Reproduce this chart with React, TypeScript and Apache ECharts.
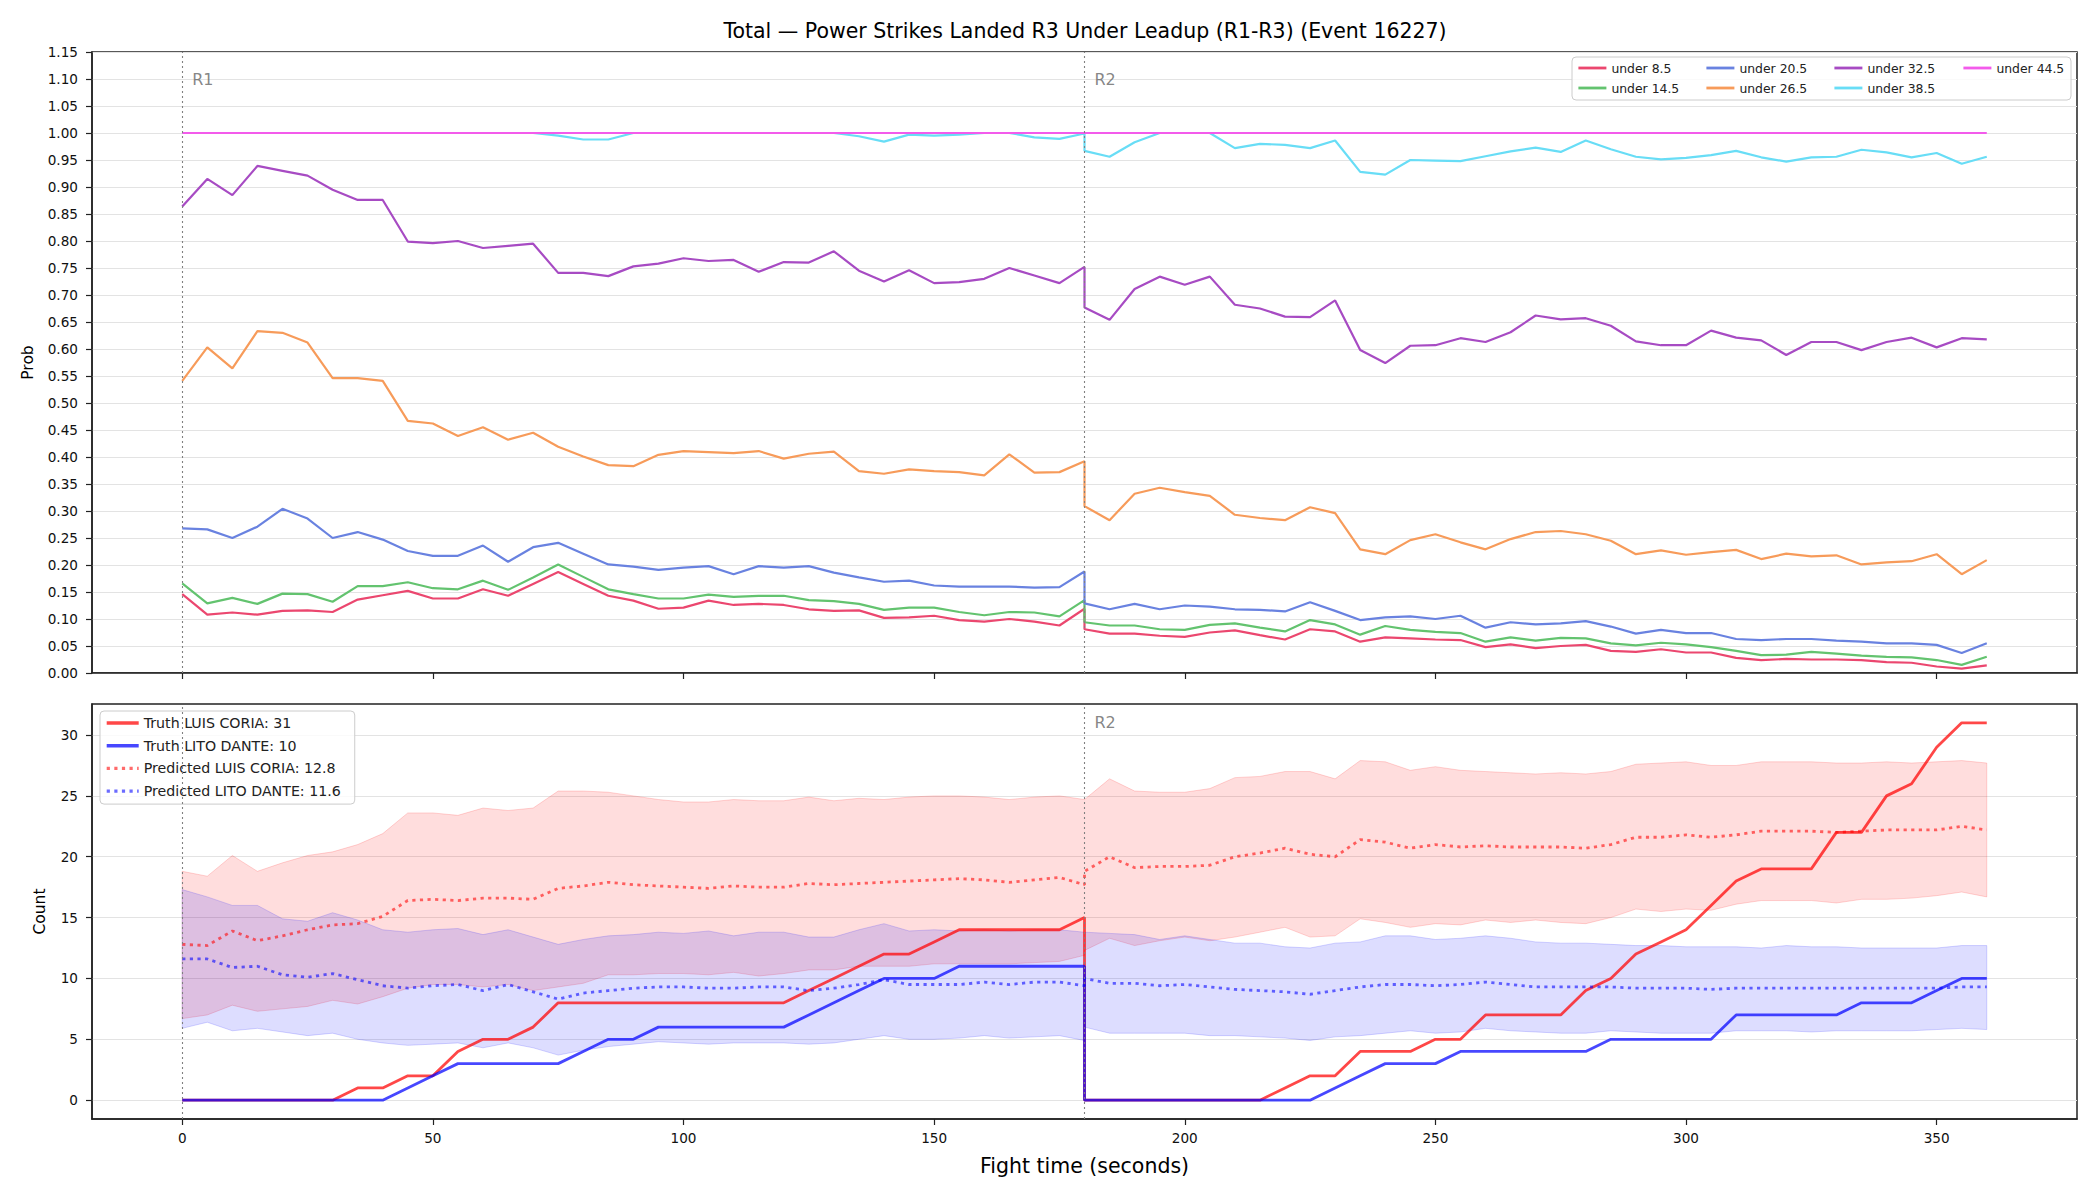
import React, { useEffect, useRef } from "react";
import * as echarts from "echarts";

const TITLE = "Total — Power Strikes Landed R3 Under Leadup (R1-R3) (Event 16227)";
const X_TICKS = [0, 50, 100, 150, 200, 250, 300, 350];
const COUNT_TICKS = [0, 5, 10, 15, 20, 25, 30];
const ROUND_STARTS = [0, 180];
const ROUND_LABELS = ["R1", "R2"];

const TIME_R1 = [0, 5, 10, 15, 20, 25, 30, 35, 40, 45, 50, 55, 60, 65, 70, 75, 80, 85, 90, 95, 100, 105, 110, 115, 120, 125, 130, 135, 140, 145, 150, 155, 160, 165, 170, 175, 180];
const TIME_R2 = [180, 185, 190, 195, 200, 205, 210, 215, 220, 225, 230, 235, 240, 245, 250, 255, 260, 265, 270, 275, 280, 285, 290, 295, 300, 305, 310, 315, 320, 325, 330, 335, 340, 345, 350, 355, 360];

// ---- Top panel: probabilities ----
const U85_R1 = [0.146, 0.108, 0.112, 0.108, 0.115, 0.116, 0.113, 0.136, 0.144, 0.152, 0.138, 0.138, 0.155, 0.143, 0.165, 0.187, 0.165, 0.143, 0.134, 0.119, 0.121, 0.134, 0.126, 0.128, 0.126, 0.118, 0.115, 0.116, 0.102, 0.103, 0.106, 0.098, 0.095, 0.100, 0.095, 0.088, 0.119];
const U85_R2 = [0.081, 0.073, 0.073, 0.069, 0.067, 0.075, 0.079, 0.070, 0.062, 0.081, 0.077, 0.058, 0.066, 0.064, 0.062, 0.061, 0.048, 0.053, 0.046, 0.050, 0.052, 0.041, 0.039, 0.044, 0.038, 0.038, 0.028, 0.024, 0.026, 0.025, 0.025, 0.024, 0.020, 0.019, 0.012, 0.008, 0.014];
const U145_R1 = [0.166, 0.129, 0.139, 0.128, 0.147, 0.146, 0.132, 0.161, 0.161, 0.168, 0.157, 0.155, 0.171, 0.154, 0.177, 0.201, 0.178, 0.155, 0.146, 0.138, 0.138, 0.145, 0.141, 0.143, 0.143, 0.135, 0.133, 0.128, 0.117, 0.121, 0.121, 0.113, 0.107, 0.113, 0.112, 0.105, 0.135];
const U145_R2 = [0.094, 0.088, 0.088, 0.081, 0.080, 0.089, 0.092, 0.084, 0.077, 0.098, 0.090, 0.071, 0.087, 0.080, 0.076, 0.074, 0.058, 0.066, 0.060, 0.065, 0.064, 0.055, 0.051, 0.056, 0.053, 0.048, 0.041, 0.033, 0.034, 0.039, 0.036, 0.032, 0.030, 0.029, 0.024, 0.015, 0.030];
const U205_R1 = [0.268, 0.266, 0.250, 0.271, 0.304, 0.286, 0.250, 0.261, 0.247, 0.226, 0.217, 0.217, 0.236, 0.206, 0.233, 0.241, 0.221, 0.201, 0.197, 0.191, 0.195, 0.198, 0.183, 0.198, 0.195, 0.198, 0.186, 0.177, 0.169, 0.171, 0.162, 0.160, 0.160, 0.160, 0.158, 0.159, 0.188];
const U205_R2 = [0.129, 0.118, 0.128, 0.118, 0.125, 0.123, 0.118, 0.117, 0.114, 0.131, 0.115, 0.098, 0.103, 0.105, 0.100, 0.106, 0.084, 0.094, 0.090, 0.092, 0.096, 0.086, 0.073, 0.080, 0.074, 0.074, 0.063, 0.061, 0.063, 0.063, 0.060, 0.058, 0.055, 0.055, 0.052, 0.037, 0.055];
const U265_R1 = [0.541, 0.603, 0.564, 0.633, 0.630, 0.612, 0.546, 0.546, 0.541, 0.467, 0.462, 0.439, 0.455, 0.432, 0.445, 0.419, 0.401, 0.385, 0.383, 0.404, 0.411, 0.409, 0.407, 0.411, 0.397, 0.406, 0.410, 0.374, 0.369, 0.377, 0.374, 0.372, 0.366, 0.405, 0.371, 0.372, 0.392];
const U265_R2 = [0.309, 0.283, 0.332, 0.343, 0.335, 0.328, 0.293, 0.287, 0.283, 0.307, 0.296, 0.229, 0.220, 0.246, 0.257, 0.242, 0.229, 0.248, 0.261, 0.263, 0.257, 0.245, 0.220, 0.227, 0.219, 0.224, 0.228, 0.211, 0.221, 0.216, 0.218, 0.201, 0.205, 0.207, 0.220, 0.183, 0.209];
const U325_R1 = [0.864, 0.915, 0.885, 0.939, 0.930, 0.921, 0.895, 0.876, 0.876, 0.799, 0.796, 0.800, 0.787, 0.791, 0.795, 0.741, 0.741, 0.735, 0.753, 0.758, 0.768, 0.763, 0.765, 0.743, 0.761, 0.760, 0.781, 0.745, 0.725, 0.746, 0.722, 0.724, 0.730, 0.750, 0.736, 0.722, 0.752];
const U325_R2 = [0.677, 0.654, 0.711, 0.734, 0.719, 0.734, 0.682, 0.675, 0.660, 0.659, 0.690, 0.598, 0.574, 0.606, 0.607, 0.620, 0.613, 0.631, 0.662, 0.655, 0.657, 0.643, 0.614, 0.607, 0.607, 0.634, 0.621, 0.616, 0.589, 0.613, 0.613, 0.598, 0.613, 0.621, 0.603, 0.620, 0.618];
const U385_R1 = [1, 1, 1, 1, 1, 1, 1, 1, 1, 1, 1, 1, 1, 1, 1, 0.995, 0.988, 0.988, 1, 1, 1, 1, 1, 1, 1, 1, 1, 0.994, 0.984, 0.997, 0.995, 0.997, 1, 1, 0.992, 0.989, 0.999];
const U385_R2 = [0.967, 0.956, 0.983, 1, 1, 1, 0.972, 0.980, 0.978, 0.972, 0.986, 0.928, 0.923, 0.950, 0.949, 0.948, 0.957, 0.966, 0.973, 0.965, 0.986, 0.970, 0.956, 0.951, 0.954, 0.959, 0.967, 0.955, 0.947, 0.955, 0.956, 0.969, 0.964, 0.955, 0.963, 0.943, 0.956];
const U445_R1 = [1, 1, 1, 1, 1, 1, 1, 1, 1, 1, 1, 1, 1, 1, 1, 1, 1, 1, 1, 1, 1, 1, 1, 1, 1, 1, 1, 1, 1, 1, 1, 1, 1, 1, 1, 1, 1];
const U445_R2 = [1, 1, 1, 1, 1, 1, 1, 1, 1, 1, 1, 1, 1, 1, 1, 1, 1, 1, 1, 1, 1, 1, 1, 1, 1, 1, 1, 1, 1, 1, 1, 1, 1, 1, 1, 1, 1];

// ---- Bottom panel: counts ----
const TRUTH_CORIA_R1 = [0, 0, 0, 0, 0, 0, 0, 1, 1, 2, 2, 4, 5, 5, 6, 8, 8, 8, 8, 8, 8, 8, 8, 8, 8, 9, 10, 11, 12, 12, 13, 14, 14, 14, 14, 14, 15];
const TRUTH_CORIA_R2 = [0, 0, 0, 0, 0, 0, 0, 0, 1, 2, 2, 4, 4, 4, 5, 5, 7, 7, 7, 7, 9, 10, 12, 13, 14, 16, 18, 19, 19, 19, 22, 22, 25, 26, 29, 31, 31];
const TRUTH_DANTE_R1 = [0, 0, 0, 0, 0, 0, 0, 0, 0, 1, 2, 3, 3, 3, 3, 3, 4, 5, 5, 6, 6, 6, 6, 6, 6, 7, 8, 9, 10, 10, 10, 11, 11, 11, 11, 11, 11];
const TRUTH_DANTE_R2 = [0, 0, 0, 0, 0, 0, 0, 0, 0, 0, 1, 2, 3, 3, 3, 4, 4, 4, 4, 4, 4, 5, 5, 5, 5, 5, 7, 7, 7, 7, 7, 8, 8, 8, 9, 10, 10];
const PRED_CORIA_R1 = [12.8, 12.7, 13.9, 13.1, 13.5, 14.0, 14.4, 14.5, 15.1, 16.4, 16.5, 16.4, 16.6, 16.6, 16.5, 17.4, 17.6, 17.9, 17.7, 17.6, 17.5, 17.4, 17.6, 17.5, 17.5, 17.8, 17.7, 17.8, 17.9, 18.0, 18.1, 18.2, 18.1, 17.9, 18.1, 18.3, 17.7];
const PRED_CORIA_R2 = [18.8, 20.0, 19.1, 19.2, 19.2, 19.3, 20.0, 20.3, 20.7, 20.2, 20.0, 21.4, 21.2, 20.7, 21.0, 20.8, 20.9, 20.8, 20.8, 20.8, 20.7, 21.0, 21.6, 21.6, 21.8, 21.6, 21.8, 22.1, 22.1, 22.1, 22.0, 22.1, 22.2, 22.2, 22.2, 22.5, 22.2];
const PRED_DANTE_R1 = [11.6, 11.6, 10.9, 11.0, 10.3, 10.1, 10.4, 9.9, 9.4, 9.2, 9.4, 9.5, 9.0, 9.5, 8.9, 8.3, 8.8, 9.0, 9.2, 9.3, 9.3, 9.2, 9.2, 9.3, 9.3, 9.0, 9.2, 9.5, 9.9, 9.5, 9.5, 9.5, 9.7, 9.5, 9.7, 9.7, 9.4];
const PRED_DANTE_R2 = [10.0, 9.6, 9.6, 9.4, 9.5, 9.3, 9.1, 9.0, 8.9, 8.7, 9.0, 9.3, 9.5, 9.5, 9.4, 9.5, 9.7, 9.5, 9.3, 9.3, 9.3, 9.3, 9.2, 9.2, 9.2, 9.1, 9.2, 9.2, 9.2, 9.2, 9.2, 9.2, 9.2, 9.2, 9.2, 9.3, 9.3];
const HI_CORIA_R1 = [18.8, 18.4, 20.1, 18.8, 19.5, 20.1, 20.4, 21.0, 21.9, 23.6, 23.6, 23.4, 24.0, 23.8, 24.0, 25.4, 25.4, 25.3, 25.0, 24.7, 24.5, 24.5, 24.7, 24.6, 24.6, 24.9, 24.6, 24.8, 24.7, 24.9, 25.0, 25.0, 24.9, 24.7, 24.9, 25.0, 24.7];
const HI_CORIA_R2 = [24.7, 26.4, 25.4, 25.3, 25.3, 25.6, 26.5, 26.6, 27.0, 27.0, 26.4, 27.9, 27.8, 27.1, 27.4, 27.1, 27.0, 26.9, 26.8, 26.9, 26.8, 27.0, 27.6, 27.7, 27.8, 27.5, 27.5, 27.8, 27.8, 27.8, 27.7, 27.7, 27.8, 27.7, 27.8, 27.9, 27.7];
const LO_CORIA_R1 = [6.7, 7.0, 7.8, 7.3, 7.5, 7.7, 8.2, 7.9, 8.5, 9.2, 9.5, 9.5, 9.3, 9.5, 9.0, 9.3, 9.6, 10.3, 10.3, 10.4, 10.4, 10.3, 10.5, 10.2, 10.4, 10.7, 10.7, 11.0, 11.0, 11.0, 11.2, 11.2, 11.2, 11.2, 11.3, 11.4, 11.9];
const LO_CORIA_R2 = [12.3, 13.3, 12.7, 13.1, 13.4, 13.1, 13.4, 13.8, 14.2, 13.4, 13.5, 14.9, 14.6, 14.2, 14.5, 14.4, 14.8, 14.6, 14.8, 14.6, 14.5, 15.0, 15.7, 15.5, 15.7, 15.6, 16.1, 16.4, 16.4, 16.4, 16.2, 16.5, 16.5, 16.6, 16.8, 17.1, 16.7];
const HI_DANTE_R1 = [17.3, 16.7, 16.0, 16.0, 14.9, 14.7, 15.4, 14.8, 14.0, 13.8, 14.0, 14.1, 13.6, 14.0, 13.4, 12.8, 13.2, 13.5, 13.6, 13.8, 13.7, 13.9, 13.5, 13.8, 13.8, 13.4, 13.4, 14.0, 14.5, 13.9, 14.0, 13.9, 14.0, 13.9, 14.0, 14.0, 13.8];
const HI_DANTE_R2 = [13.8, 13.7, 13.6, 13.2, 13.5, 13.2, 12.9, 12.9, 12.6, 12.5, 12.9, 13.0, 13.5, 13.5, 13.2, 13.3, 13.5, 13.3, 13.0, 12.9, 12.9, 12.8, 12.7, 12.7, 12.6, 12.6, 12.6, 12.5, 12.7, 12.6, 12.6, 12.5, 12.5, 12.5, 12.5, 12.7, 12.7];
const LO_DANTE_R1 = [5.9, 6.4, 5.7, 5.9, 5.6, 5.3, 5.5, 5.0, 4.7, 4.5, 4.6, 4.7, 4.3, 4.7, 4.3, 3.7, 4.1, 4.4, 4.6, 4.8, 4.7, 4.6, 4.7, 4.7, 4.7, 4.6, 4.7, 5.0, 5.3, 5.0, 5.0, 5.1, 5.3, 5.1, 5.2, 5.3, 4.9];
const LO_DANTE_R2 = [6.0, 5.5, 5.5, 5.5, 5.5, 5.3, 5.3, 5.2, 5.1, 4.9, 5.2, 5.3, 5.5, 5.7, 5.5, 5.6, 5.9, 5.7, 5.6, 5.5, 5.5, 5.7, 5.6, 5.5, 5.5, 5.5, 5.7, 5.7, 5.7, 5.6, 5.7, 5.7, 5.7, 5.7, 5.8, 5.9, 5.8];

const PROB_SERIES = [
  { name: "under 8.5", r1: U85_R1, r2: U85_R2, color: "#eb476f" },
  { name: "under 14.5", r1: U145_R1, r2: U145_R2, color: "#63c36f" },
  { name: "under 20.5", r1: U205_R1, r2: U205_R2, color: "#6982e0" },
  { name: "under 26.5", r1: U265_R1, r2: U265_R2, color: "#f79b5a" },
  { name: "under 32.5", r1: U325_R1, r2: U325_R2, color: "#a74bc3" },
  { name: "under 38.5", r1: U385_R1, r2: U385_R2, color: "#68ddf6" },
  { name: "under 44.5", r1: U445_R1, r2: U445_R2, color: "#f35beb" },
];
const TOP_LEGEND_COLUMNS = [["under 8.5", "under 14.5"], ["under 20.5", "under 26.5"], ["under 32.5", "under 38.5"], ["under 44.5"]];
const TOP_LEGEND_LEFTS = [1577, 1705, 1833, 1962];

const NAME_TRUTH_CORIA = "Truth LUIS CORIA: 31";
const NAME_TRUTH_DANTE = "Truth LITO DANTE: 10";
const NAME_PRED_CORIA = "Predicted LUIS CORIA: 12.8";
const NAME_PRED_DANTE = "Predicted LITO DANTE: 11.6";

const FONT = "DejaVu Sans";

const pts = (r1: number[], r2: number[]) => [
  ...TIME_R1.map((t, i) => [t, r1[i]]),
  ...TIME_R2.map((t, i) => [t, r2[i]]),
];
const bandPts = (lo1: number[], lo2: number[], hi1: number[], hi2: number[]) => [
  ...TIME_R1.map((t, i) => [t, lo1[i], hi1[i]]),
  ...TIME_R2.map((t, i) => [t, lo2[i], hi2[i]]),
];

function bandSeries(data: number[][], fill: string, stroke: string) {
  return {
    type: "custom",
    xAxisIndex: 1,
    yAxisIndex: 1,
    silent: true,
    z: 1,
    encode: { x: 0, y: [1, 2] },
    data,
    renderItem: (params: any, api: any) => {
      if (params.dataIndexInside !== 0) return null;
      const upper = data.map((d) => api.coord([d[0], d[2]]));
      const lower = data.map((d) => api.coord([d[0], d[1]])).reverse();
      return {
        type: "polygon",
        shape: { points: upper.concat(lower) },
        style: { fill, stroke, lineWidth: 1 },
      };
    },
  };
}

const vLines = {
  silent: true,
  symbol: ["none", "none"],
  label: { show: false },
  lineStyle: { color: "#808080", type: [2, 3], width: 1.1 },
  data: ROUND_STARTS.map((x) => ({ xAxis: x })),
};

const tickStyle = { show: true, length: 6, lineStyle: { color: "#222", width: 1.2 } };

function buildOption() {
  const topLines = PROB_SERIES.map((s) => ({
    type: "line",
    name: s.name,
    xAxisIndex: 0,
    yAxisIndex: 0,
    data: pts(s.r1, s.r2),
    symbol: "none",
    showSymbol: false,
    lineStyle: { color: s.color, width: 2.2 },
    itemStyle: { color: s.color },
    emphasis: { disabled: true },
    z: 3,
  }));

  const series: any[] = [
    {
      type: "scatter",
      xAxisIndex: 0,
      yAxisIndex: 0,
      silent: true,
      symbolSize: 0,
      data: ROUND_STARTS.map((x, i) => [x, 1.1, ROUND_LABELS[i]]),
      label: { show: true, position: "right", distance: 10, formatter: (p: any) => p.data[2], color: "#666", fontSize: 16, fontFamily: FONT },
      markLine: vLines,
      z: 2,
    },
    ...topLines,
    bandSeries(bandPts(LO_CORIA_R1, LO_CORIA_R2, HI_CORIA_R1, HI_CORIA_R2), "rgba(255,0,0,0.135)", "rgba(255,0,0,0.16)"),
    bandSeries(bandPts(LO_DANTE_R1, LO_DANTE_R2, HI_DANTE_R1, HI_DANTE_R2), "rgba(0,0,255,0.135)", "rgba(0,0,255,0.16)"),
    {
      type: "scatter",
      xAxisIndex: 1,
      yAxisIndex: 1,
      silent: true,
      symbolSize: 0,
      data: [[ROUND_STARTS[1], 31, ROUND_LABELS[1]]],
      label: { show: true, position: "right", distance: 10, formatter: (p: any) => p.data[2], color: "#666", fontSize: 16, fontFamily: FONT },
      markLine: vLines,
      z: 2,
    },
    {
      type: "line", name: NAME_TRUTH_CORIA, xAxisIndex: 1, yAxisIndex: 1,
      data: pts(TRUTH_CORIA_R1, TRUTH_CORIA_R2), symbol: "none", showSymbol: false,
      lineStyle: { color: "rgba(255,0,0,0.72)", width: 2.8 }, itemStyle: { color: "rgba(255,0,0,0.72)" },
      emphasis: { disabled: true }, z: 3,
    },
    {
      type: "line", name: NAME_TRUTH_DANTE, xAxisIndex: 1, yAxisIndex: 1,
      data: pts(TRUTH_DANTE_R1, TRUTH_DANTE_R2), symbol: "none", showSymbol: false,
      lineStyle: { color: "rgba(0,0,255,0.72)", width: 2.8 }, itemStyle: { color: "rgba(0,0,255,0.72)" },
      emphasis: { disabled: true }, z: 3,
    },
    {
      type: "line", name: NAME_PRED_CORIA, xAxisIndex: 1, yAxisIndex: 1,
      data: pts(PRED_CORIA_R1, PRED_CORIA_R2), symbol: "none", showSymbol: false,
      lineStyle: { color: "rgba(255,0,0,0.58)", width: 2.8, type: [3.2, 4.4] }, itemStyle: { color: "rgba(255,0,0,0.58)" },
      emphasis: { disabled: true }, z: 3,
    },
    {
      type: "line", name: NAME_PRED_DANTE, xAxisIndex: 1, yAxisIndex: 1,
      data: pts(PRED_DANTE_R1, PRED_DANTE_R2), symbol: "none", showSymbol: false,
      lineStyle: { color: "rgba(0,0,255,0.58)", width: 2.8, type: [3.2, 4.4] }, itemStyle: { color: "rgba(0,0,255,0.58)" },
      emphasis: { disabled: true }, z: 3,
    },
  ];

  const topLegends = TOP_LEGEND_COLUMNS.map((col, i) => ({
    show: true,
    data: col,
    left: TOP_LEGEND_LEFTS[i],
    top: 62,
    orient: "vertical",
    itemWidth: 28,
    itemHeight: 12,
    itemGap: 8,
    padding: 0,
    selectedMode: false,
    itemStyle: { opacity: 0 },
    lineStyle: { width: 2.8 },
    textStyle: { fontSize: 12.4, color: "#222", fontFamily: FONT, lineHeight: 12 },
  }));

  const bottomLegend = {
    show: true,
    data: [NAME_TRUTH_CORIA, NAME_TRUTH_DANTE, NAME_PRED_CORIA, NAME_PRED_DANTE],
    left: 100,
    top: 711,
    orient: "vertical",
    padding: [5, 14, 6, 5],
    itemWidth: 32,
    itemHeight: 14,
    itemGap: 8.7,
    selectedMode: false,
    itemStyle: { opacity: 0 },
    lineStyle: { width: 3.4 },
    backgroundColor: "rgba(255,255,255,0.8)",
    borderColor: "#cccccc",
    borderWidth: 1,
    borderRadius: 4,
    textStyle: { fontSize: 14.2, color: "#222", fontFamily: FONT, lineHeight: 14 },
  };

  const axisLabelStyle = { fontSize: 13.6, color: "#111", fontFamily: FONT };

  return {
    animation: false,
    backgroundColor: "#ffffff",
    textStyle: { fontFamily: FONT },
    title: {
      text: TITLE,
      left: 1085,
      top: 20,
      padding: 0,
      textAlign: "center",
      textStyle: { fontSize: 20.5, fontWeight: "normal", color: "#000", fontFamily: FONT },
    },
    graphic: [
      {
        type: "rect",
        z: 3,
        shape: { x: 1572, y: 57, width: 499, height: 43, r: 4 },
        style: { fill: "rgba(255,255,255,0.8)", stroke: "#cccccc", lineWidth: 1 },
        silent: true,
      },
    ],
    legend: [...topLegends, bottomLegend],
    grid: [
      { left: 92, top: 52, width: 1985, height: 621, show: true, borderColor: "#222", borderWidth: 1.5, backgroundColor: "transparent" },
      { left: 92, top: 704, width: 1985, height: 415, show: true, borderColor: "#222", borderWidth: 1.5, backgroundColor: "transparent" },
    ],
    xAxis: [
      {
        type: "value", gridIndex: 0, min: -18, max: 378,
        axisLine: { show: true, onZero: false, lineStyle: { color: "#222", width: 1.5 } },
        axisTick: { ...tickStyle, customValues: X_TICKS },
        axisLabel: { show: false },
        splitLine: { show: false },
      },
      {
        type: "value", gridIndex: 1, min: -18, max: 378,
        axisLine: { show: true, onZero: false, lineStyle: { color: "#222", width: 1.5 } },
        axisTick: { ...tickStyle, customValues: X_TICKS },
        axisLabel: { show: true, customValues: X_TICKS, margin: 12, ...axisLabelStyle },
        splitLine: { show: false },
        name: "Fight time (seconds)",
        nameLocation: "middle",
        nameGap: 36,
        nameTextStyle: { fontSize: 20.5, color: "#000", fontFamily: FONT },
      },
    ],
    yAxis: [
      {
        type: "value", gridIndex: 0, min: 0, max: 1.15, interval: 0.05,
        axisLine: { show: true, onZero: false, lineStyle: { color: "#222", width: 1.5 } },
        axisTick: tickStyle,
        axisLabel: { show: true, margin: 14, formatter: (v: number) => v.toFixed(2), ...axisLabelStyle },
        splitLine: { show: true, lineStyle: { color: "#e3e3e3", width: 1 } },
        name: "Prob",
        nameLocation: "middle",
        nameRotate: 90,
        nameGap: 56,
        nameTextStyle: { fontSize: 15.5, color: "#000", fontFamily: FONT },
      },
      {
        type: "value", gridIndex: 1, min: -1.55, max: 32.55,
        axisLine: { show: true, onZero: false, lineStyle: { color: "#222", width: 1.5 } },
        axisTick: { ...tickStyle, customValues: COUNT_TICKS },
        axisLabel: { show: true, margin: 14, customValues: COUNT_TICKS, ...axisLabelStyle },
        splitLine: { show: true, lineStyle: { color: "#e3e3e3", width: 1 } },
        name: "Count",
        nameLocation: "middle",
        nameRotate: 90,
        nameGap: 44,
        nameTextStyle: { fontSize: 15.5, color: "#000", fontFamily: FONT },
      },
    ],
    series,
  };
}

export default function App() {
  const ref = useRef<HTMLDivElement>(null);
  useEffect(() => {
    document.body.style.margin = "0";
    const chart = echarts.init(ref.current as HTMLDivElement, null, { renderer: "svg" });
    chart.setOption(buildOption() as any);
    return () => chart.dispose();
  }, []);
  return <div ref={ref} style={{ width: 2100, height: 1200 }} />;
}
